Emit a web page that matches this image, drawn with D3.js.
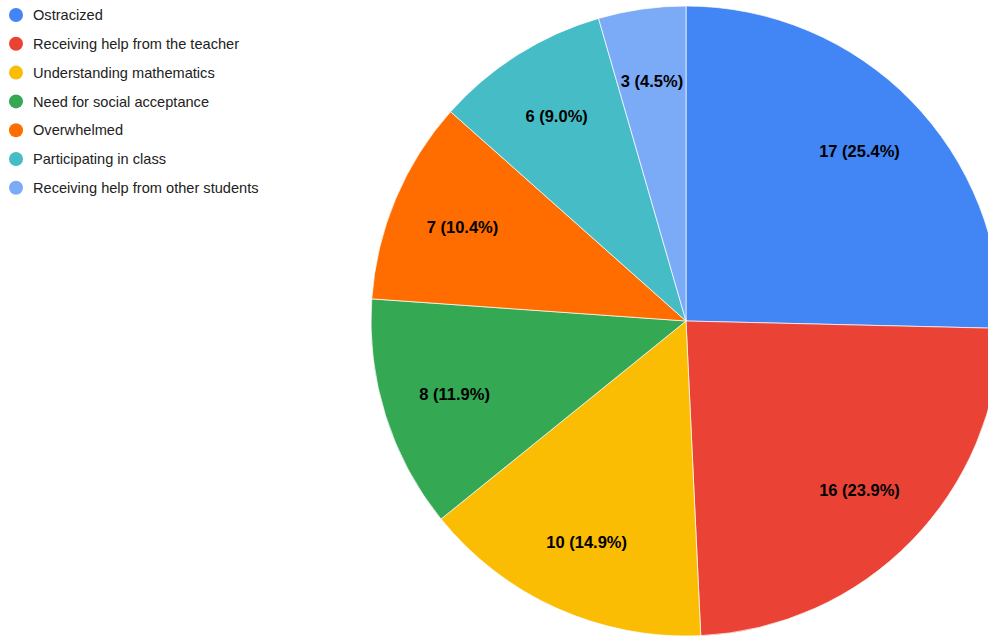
<!DOCTYPE html>
<html>
<head>
<meta charset="utf-8">
<script src="https://cdn.jsdelivr.net/npm/d3@7"></script>
<style>
  body { margin: 0; background: #fff; }
  svg { display: block; font-family: Arial, "Liberation Sans", sans-serif; }
</style>
</head>
<body>
<svg id="chart" width="988" height="637"></svg>
<script>
// data
var categories = ["Ostracized", "Receiving help from the teacher", "Understanding mathematics",
  "Need for social acceptance", "Overwhelmed", "Participating in class", "Receiving help from other students"];
var counts = [17, 16, 10, 8, 7, 6, 3];
var colors = ["#4285f4", "#ea4335", "#fbbc04", "#34a853", "#ff6d01", "#46bdc6", "#7baaf7"];

var width = 988, height = 637;
var cx = 686, cy = 321, radius = 315;
var total = d3.sum(counts);

var svg = d3.select("#chart");
var rows = categories.map((c, i) => ({ name: c, value: counts[i], color: colors[i] }));

//----------------------------------------------------------------------pie
var pie = d3.pie().value(d => d.value).sort(null);
var arc = d3.arc().innerRadius(0).outerRadius(radius);
var labelArc = d3.arc().innerRadius(radius * 0.77).outerRadius(radius * 0.77);

var g = svg.append("g").attr("transform", "translate(" + cx + "," + cy + ")");
var arcs = pie(rows);
g.selectAll("path.slice").data(arcs).join("path").attr("class", "slice")
  .attr("d", arc).attr("fill", d => d.data.color)
  .attr("stroke", "#fff").attr("stroke-width", 0.7);

g.selectAll("text.lbl").data(arcs).join("text").attr("class", "lbl")
  .attr("transform", d => "translate(" + labelArc.centroid(d) + ")")
  .attr("text-anchor", "middle").attr("dy", "0.35em")
  .attr("font-size", 16.5).attr("font-weight", "bold").attr("fill", "#000")
  .text(d => d.data.value + " (" + (d.data.value / total * 100).toFixed(1) + "%)");

//----------------------------------------------------------------------legend
var legend = svg.append("g").attr("transform", "translate(16,15)");
var items = legend.selectAll("g").data(rows).join("g")
  .attr("transform", (d, i) => "translate(0," + (i * 28.8) + ")");
items.append("circle").attr("r", 7).attr("fill", d => d.color);
items.append("text").attr("x", 17).attr("dy", "0.35em")
  .attr("font-size", 14.6).attr("fill", "#222").text(d => d.name);
</script>
</body>
</html>
